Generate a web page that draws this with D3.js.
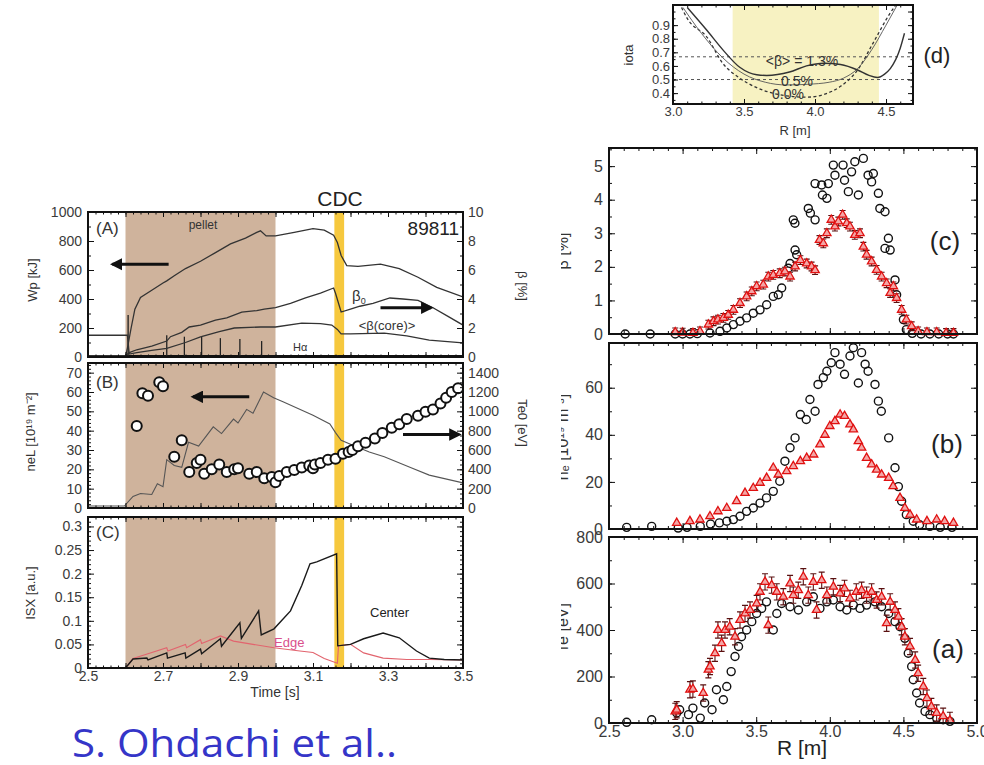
<!DOCTYPE html>
<html>
<head>
<meta charset="utf-8">
<script src="https://cdn.jsdelivr.net/npm/d3@7"></script>
<style>
  body { margin: 0; background: #fff; }
  svg { display: block; }
</style>
</head>
<body>
<svg id="fig" width="984" height="765"></svg>
<script>
// ---------- time traces, shot 89811 ----------
const timeTicks = [2.5, 2.7, 2.9, 3.1, 3.3, 3.5];
const pelletWindow = [2.6, 3.0];
const cdcWindow = [3.157, 3.183];

// stored energy Wp [kJ]
const wpTrace = [[2.5,8],[2.6,8],[2.605,60],[2.615,200],[2.625,330],[2.64,410],[2.67,460],[2.7,510],[2.71,525],[2.73,560],[2.76,610],[2.8,660],[2.84,720],[2.88,780],[2.92,820],[2.95,860],[2.96,870],[2.975,835],[3.0,835],[3.05,860],[3.1,885],[3.13,875],[3.155,840],[3.165,790],[3.175,700],[3.19,630],[3.22,625],[3.28,640],[3.33,610],[3.38,550],[3.43,480],[3.5,414]];
// central beta [%]
const beta0Trace = [[2.5,0.1],[2.6,0.1],[2.61,0.3],[2.63,0.5],[2.67,0.75],[2.71,1.1],[2.72,1.4],[2.75,1.7],[2.77,2.07],[2.8,2.2],[2.84,2.55],[2.87,2.7],[2.91,3.1],[2.95,3.2],[2.97,3.3],[3.0,3.4],[3.04,3.7],[3.08,4.07],[3.12,4.4],[3.155,4.76],[3.16,4.4],[3.175,3.1],[3.2,3.3],[3.225,3.5],[3.26,3.7],[3.305,4.07],[3.34,4.0],[3.38,3.9],[3.42,3.4],[3.46,2.8],[3.5,2.2]];
// volume averaged core beta [%]
const betaCoreTrace = [[2.5,1.5],[2.605,1.5],[2.61,0.2],[2.63,0.3],[2.67,0.45],[2.71,0.6],[2.76,1.0],[2.8,1.38],[2.85,1.75],[2.89,2.0],[2.96,2.07],[3.0,2.07],[3.07,2.34],[3.12,2.3],[3.15,2.2],[3.165,1.9],[3.175,1.6],[3.2,1.6],[3.29,1.65],[3.35,1.45],[3.41,1.17],[3.5,0.97]];
// H-alpha spikes (pellet ablation), height on the Wp scale
const halphaSpikes = [[2.607,290],[2.71,150],[2.757,140],[2.803,140],[2.853,130],[2.905,125],[2.963,110],[3.165,12]];
const halphaBase = 5;

// line density neL [1e19 m^-2]
const nelTrace = [[2.5,1],[2.597,1],[2.62,6],[2.64,7.5],[2.67,7],[2.685,12.5],[2.7,11],[2.71,25],[2.73,22],[2.75,21],[2.768,34],[2.795,32],[2.834,42],[2.856,38.5],[2.888,46],[2.9,44],[2.923,51],[2.94,49],[2.968,60],[2.995,57],[3.02,55],[3.06,51.5],[3.1,48],[3.145,43.5],[3.16,39],[3.175,35],[3.2,33],[3.25,29],[3.29,26.5],[3.36,21],[3.41,17],[3.5,13]];
// central electron temperature Te0 [eV]
const te0Points = [[2.63,848],[2.645,1188],[2.66,1160],[2.69,1300],[2.70,1260],[2.73,530],[2.75,700],[2.77,372],[2.79,466],[2.80,500],[2.81,354],[2.83,400],[2.85,450],[2.87,372],[2.89,400],[2.90,410],[2.93,354],[2.95,372],[2.97,308],[2.99,320],[3.0,266],[3.01,332],[3.03,372],[3.05,392],[3.07,420],[3.09,440],[3.10,410],[3.105,450],[3.12,466],[3.14,500],[3.16,510],[3.18,560],[3.195,580],[3.205,600],[3.22,640],[3.24,676],[3.265,720],[3.285,776],[3.31,830],[3.33,866],[3.35,920],[3.38,954],[3.40,996],[3.42,1020],[3.44,1080],[3.455,1140],[3.47,1200],[3.487,1240]];

// soft X-ray intensity [a.u.]
const isxCenter = [[2.5,0],[2.6,0],[2.62,0.019],[2.657,0.021],[2.66,0.017],[2.71,0.032],[2.712,0.021],[2.759,0.032],[2.761,0.021],[2.8,0.04],[2.803,0.03],[2.853,0.062],[2.856,0.046],[2.905,0.096],[2.909,0.063],[2.955,0.121],[2.962,0.07],[2.996,0.083],[3.04,0.121],[3.07,0.175],[3.092,0.221],[3.11,0.225],[3.163,0.242],[3.166,0.047],[3.2,0.05],[3.235,0.062],[3.287,0.074],[3.33,0.064],[3.376,0.036],[3.41,0.021],[3.45,0.018],[3.5,0.017]];
const isxEdge = [[2.5,0],[2.6,0],[2.62,0.02],[2.66,0.03],[2.71,0.043],[2.713,0.036],[2.76,0.05],[2.763,0.043],[2.8,0.06],[2.803,0.052],[2.853,0.068],[2.888,0.057],[2.94,0.05],[2.996,0.043],[3.065,0.036],[3.1,0.033],[3.13,0.02],[3.165,0.01],[3.168,0.047],[3.2,0.05],[3.235,0.032],[3.287,0.021],[3.35,0.018],[3.41,0.018],[3.5,0.017]];

// ---------- rotational transform profiles (d) ----------
const iotaWindow = [3.42, 4.45];
const iotaRefLines = [0.667, 0.5];
const iotaBeta00 = [[3.06,1.03],[3.1,0.95],[3.24,0.81],[3.35,0.62],[3.47,0.51],[3.59,0.44],[3.7,0.40],[3.8,0.38],[3.94,0.37],[4.06,0.39],[4.18,0.45],[4.3,0.57],[4.41,0.77],[4.53,0.99],[4.57,1.05]];
const iotaBeta05 = [[3.07,1.03],[3.2,0.84],[3.35,0.66],[3.5,0.54],[3.65,0.48],[3.8,0.46],[3.95,0.465],[4.1,0.48],[4.2,0.51],[4.3,0.58],[4.4,0.72],[4.5,0.9],[4.58,1.05]];
const iotaBeta13 = [[3.1,1.03],[3.24,0.86],[3.35,0.72],[3.47,0.59],[3.59,0.535],[3.66,0.53],[3.82,0.555],[3.94,0.60],[4.06,0.62],[4.18,0.61],[4.3,0.57],[4.38,0.53],[4.44,0.515],[4.49,0.54],[4.53,0.58],[4.6,0.73],[4.63,0.84]];

// ---------- radial profiles: circles = before, triangles = after ----------
const rTicks = [2.5, 3.0, 3.5, 4.0, 4.5, 5.0];
const betaCircles = [[2.61,0],[2.78,0],[2.95,0],[3.0,0],[3.05,0],[3.1,0.01],[3.186,0.03],[3.254,0.08],[3.30,0.18],[3.345,0.28],[3.39,0.38],[3.435,0.48],[3.48,0.62],[3.526,0.72],[3.571,0.87],[3.616,1.12],[3.65,1.17],[3.673,1.37],[3.718,1.96],[3.73,2.1],[3.764,2.5],[3.775,2.36],[3.752,3.4],[3.763,3.3],[3.854,3.74],[3.868,3.6],[3.9,3.4],[3.9,4.48],[3.945,4.44],[3.95,4.14],[3.98,4.04],[3.99,4.48],[4.024,5.03],[4.035,4.73],[4.09,5.03],[4.10,4.58],[4.126,4.24],[4.148,4.83],[4.194,4.14],[4.17,5.13],[4.228,5.23],[4.26,4.73],[4.284,4.53],[4.296,4.78],[4.33,4.19],[4.34,3.74],[4.375,3.64],[4.398,2.85],[4.41,2.5],[4.375,2.55],[4.443,1.61],[4.454,1.17],[4.5,0.43],[4.52,0.13],[4.56,0.02],[4.62,0],[4.68,0],[4.74,0],[4.8,0],[4.84,0]];
const betaTriangles = [[2.95,0.05],[3.0,0.04],[3.07,0.03],[3.118,0.08],[3.175,0.28],[3.21,0.38],[3.24,0.43],[3.277,0.48],[3.31,0.57],[3.345,0.72],[3.39,0.92],[3.435,1.12],[3.47,1.27],[3.503,1.42],[3.548,1.47],[3.582,1.71],[3.616,1.76],[3.66,1.81],[3.695,1.86],[3.73,1.71],[3.764,2.01],[3.8,2.2],[3.843,2.1],[3.876,2.01],[3.9,1.9],[3.93,2.8],[3.956,2.7],[3.98,3.0],[4.01,3.4],[4.035,3.2],[4.058,3.35],[4.087,3.55],[4.115,3.3],[4.137,3.2],[4.17,2.95],[4.205,3.0],[4.228,2.6],[4.25,2.36],[4.284,2.16],[4.318,1.91],[4.352,1.71],[4.386,1.51],[4.41,1.22],[4.432,1.42],[4.454,1.07],[4.488,0.72],[4.52,0.43],[4.556,0.23],[4.6,0.08],[4.66,0.05],[4.726,0.05],[4.79,0.03],[4.84,0.03]];
const betaErr = 0.13;

const neCircles = [[2.62,0.7],[2.79,1.1],[2.97,0.4],[3.03,0.7],[3.12,1.1],[3.19,2.1],[3.25,2.6],[3.3,3.3],[3.345,4],[3.39,5.4],[3.435,7.5],[3.48,8.9],[3.526,11],[3.57,13.2],[3.616,16],[3.66,20.3],[3.695,28.8],[3.73,34.5],[3.764,38.7],[3.8,48.6],[3.84,46.5],[3.865,55],[3.9,50],[3.92,61.4],[3.956,64.3],[3.98,67],[4.01,70.6],[4.035,74.9],[4.07,70],[4.10,65.7],[4.137,73.5],[4.16,77],[4.194,62],[4.216,74.9],[4.24,70],[4.26,67],[4.307,61.4],[4.33,54.3],[4.35,50],[4.4,38.7],[4.443,26],[4.466,18],[4.488,11.8],[4.52,6.1],[4.567,3.3],[4.61,1.8],[4.68,1.1],[4.75,0.7],[4.83,0.7]];
const neTriangles = [[2.96,2.6],[3.05,3.3],[3.118,4],[3.186,5.4],[3.24,7.5],[3.3,8.9],[3.367,11.8],[3.424,15.3],[3.48,17.4],[3.526,19.6],[3.571,21.7],[3.616,26],[3.65,23.1],[3.707,24.5],[3.752,26.7],[3.8,28.8],[3.843,30.2],[3.89,31.6],[3.933,35.9],[3.967,40],[4.0,43.7],[4.035,45.8],[4.07,48.6],[4.10,48],[4.137,44.4],[4.16,42.3],[4.194,37.3],[4.216,34.5],[4.25,30.2],[4.284,27.4],[4.318,25.2],[4.352,23.1],[4.4,21.7],[4.43,18.2],[4.477,13.2],[4.51,8.9],[4.545,6.1],[4.59,4],[4.66,3.3],[4.726,4],[4.78,3.3],[4.84,2.6]];

const teCircles = [[2.62,3],[2.79,14],[2.96,43],[2.98,57],[3.04,36],[3.07,64],[3.12,21],[3.15,86],[3.2,57],[3.23,143],[3.277,100],[3.3,157],[3.33,221],[3.356,286],[3.38,329],[3.4,371],[3.435,400],[3.47,436],[3.503,471],[3.537,493],[3.57,521],[3.616,400],[3.64,471],[3.673,514],[3.73,500],[3.787,486],[3.843,521],[3.888,543],[3.933,493],[3.98,521],[4.024,529],[4.07,500],[4.115,486],[4.16,507],[4.205,493],[4.25,507],[4.307,521],[4.352,500],[4.4,471],[4.443,436],[4.477,414],[4.51,364],[4.533,300],[4.556,243],[4.567,186],[4.59,129],[4.61,86],[4.647,50],[4.68,36],[4.726,21],[4.77,14],[4.816,7]];
const teTriangles = [[2.95,50],[2.96,57],[3.05,143],[3.07,146],[3.14,129],[3.175,229],[3.186,243],[3.22,300],[3.24,400],[3.265,343],[3.288,400],[3.32,414],[3.356,371],[3.39,443],[3.424,471],[3.458,486],[3.503,514],[3.526,564],[3.56,607],[3.582,421],[3.605,593],[3.64,564],[3.684,543],[3.73,600],[3.752,550],[3.786,571],[3.82,629],[3.854,550],[3.888,607],[3.91,486],[3.945,614],[3.98,550],[4.024,586],[4.07,557],[4.10,579],[4.137,536],[4.18,564],[4.216,571],[4.25,550],[4.284,564],[4.318,529],[4.352,543],[4.386,429],[4.41,521],[4.443,486],[4.466,457],[4.488,414],[4.51,371],[4.545,329],[4.58,271],[4.6,214],[4.635,157],[4.66,107],[4.69,71],[4.726,43],[4.77,29],[4.816,11]];
const teErr = 35;

// ---------- drawing ----------
const FONT = '"Liberation Sans", Arial, Helvetica, sans-serif';
const svg = d3.select("#fig").attr("font-family", FONT);
const defs = svg.append("defs");
defs.append("marker").attr("id", "head").attr("viewBox", "0 0 10 10")
  .attr("refX", 8).attr("refY", 5).attr("markerWidth", 4.2).attr("markerHeight", 4.2)
  .attr("orient", "auto").attr("markerUnits", "strokeWidth")
  .append("path").attr("d", "M0,0L10,5L0,10z").attr("fill", "#111");

let clipId = 0;
function clipFor(x0, x1, y0, y1) {
  const id = "clip" + (clipId++);
  defs.append("clipPath").attr("id", id).append("rect")
    .attr("x", x0).attr("y", y0).attr("width", x1 - x0).attr("height", y1 - y0);
  return `url(#${id})`;
}

function ticks(orient, scale, at, values, len, fmt, fs, pad) {
  const make = { left: d3.axisLeft, right: d3.axisRight, top: d3.axisTop, bottom: d3.axisBottom }[orient];
  const axis = make(scale).tickValues(values).tickSizeInner(-len).tickSizeOuter(0)
    .tickPadding(pad == null ? 5 : pad).tickFormat(fmt || (() => ""));
  const vertical = orient === "left" || orient === "right";
  const g = svg.append("g")
    .attr("transform", vertical ? `translate(${at},0)` : `translate(0,${at})`)
    .call(axis).attr("font-family", FONT).attr("font-size", fs || 13);
  g.select(".domain").remove();
  g.selectAll("line").attr("stroke", "#111").attr("stroke-width", 1);
  g.selectAll("text").attr("fill", "#3a3a3a");
  return g;
}
function range(a, b, s) { const out = []; for (let v = a; v <= b + s * 1e-6; v += s) out.push(+v.toFixed(6)); return out; }

function frame(x0, x1, y0, y1, w) {
  svg.append("rect").attr("x", x0).attr("y", y0).attr("width", x1 - x0).attr("height", y1 - y0)
    .attr("fill", "none").attr("stroke", "#111").attr("stroke-width", w || 2);
}
function text(x, y, s, opt) {
  const t = svg.append("text").attr("x", x).attr("y", y).text(s)
    .attr("font-size", opt.size || 13).attr("fill", opt.fill || "#333")
    .attr("text-anchor", opt.anchor || "start");
  if (opt.rotate) t.attr("transform", `rotate(${opt.rotate},${x},${y})`).attr("dy", "0.35em");
  return t;
}

// ===== left column: time traces =====
const L = { x0: 88, x1: 463 };
const xT = d3.scaleLinear([2.5, 3.5], [L.x0, L.x1]);
const PA = { y0: 212, y1: 357 }, PB = { y0: 363, y1: 508 }, PC = { y0: 517, y1: 668 };
const yWp = d3.scaleLinear([0, 1000], [PA.y1, PA.y0]);
const yBeta = d3.scaleLinear([0, 10], [PA.y1, PA.y0]);
const yNel = d3.scaleLinear([0, 75], [PB.y1, PB.y0]);
const yTe0 = d3.scaleLinear([0, 1500], [PB.y1, PB.y0]);
const yIsx = d3.scaleLinear([0, 0.32], [PC.y1, PC.y0]);

[PA, PB, PC].forEach(p => {
  svg.append("rect").attr("x", xT(pelletWindow[0])).attr("y", p.y0)
    .attr("width", xT(pelletWindow[1]) - xT(pelletWindow[0])).attr("height", p.y1 - p.y0)
    .attr("fill", "#cfb39c");
  svg.append("rect").attr("x", xT(cdcWindow[0])).attr("y", p.y0)
    .attr("width", xT(cdcWindow[1]) - xT(cdcWindow[0])).attr("height", p.y1 - p.y0)
    .attr("fill", "#f6c83e");
});

const lineT = (ys) => d3.line().x(d => xT(d[0])).y(d => ys(d[1]));

// (A)
const clipA = clipFor(L.x0, L.x1, PA.y0, PA.y1);
const gA = svg.append("g").attr("clip-path", clipA);
gA.append("path").attr("d", d3.line().x(d => xT(d[0])).y(() => yWp(halphaBase))(d3.extent(timeTicks).map(t => [t])))
  .attr("stroke", "#111").attr("stroke-width", 2.5);
gA.selectAll(".ha").data(halphaSpikes).join("line")
  .attr("x1", d => xT(d[0])).attr("x2", d => xT(d[0]))
  .attr("y1", yWp(halphaBase)).attr("y2", d => yWp(d[1]))
  .attr("stroke", "#222").attr("stroke-width", 1.3);
[[wpTrace, yWp], [beta0Trace, yBeta], [betaCoreTrace, yBeta]].forEach(([d, ys]) =>
  gA.append("path").attr("d", lineT(ys)(d)).attr("fill", "none").attr("stroke", "#333").attr("stroke-width", 1.3));

// (B)
const clipB = clipFor(L.x0, L.x1, PB.y0, PB.y1);
const gB = svg.append("g").attr("clip-path", clipB);
gB.append("path").attr("d", lineT(yNel)(nelTrace)).attr("fill", "none").attr("stroke", "#555").attr("stroke-width", 1.1);
gB.selectAll("circle").data(te0Points).join("circle")
  .attr("cx", d => xT(d[0])).attr("cy", d => yTe0(d[1])).attr("r", 5)
  .attr("fill", "#fff").attr("stroke", "#111").attr("stroke-width", 2);

// (C)
const clipC = clipFor(L.x0, L.x1, PC.y0, PC.y1);
const gC = svg.append("g").attr("clip-path", clipC);
gC.append("path").attr("d", lineT(yIsx)(isxEdge)).attr("fill", "none").attr("stroke", "#e2646e").attr("stroke-width", 1.1);
gC.append("path").attr("d", lineT(yIsx)(isxCenter)).attr("fill", "none").attr("stroke", "#1a1a1a").attr("stroke-width", 1.4);

// frames and ticks, left column
[PA, PB, PC].forEach(p => {
  ticks("top", xT, p.y0, range(2.5, 3.5, 0.1), 5);
  ticks("top", xT, p.y0, range(2.5, 3.5, 0.02), 2.5);
  ticks("bottom", xT, p.y1, range(2.5, 3.5, 0.1), 5);
  ticks("bottom", xT, p.y1, range(2.5, 3.5, 0.02), 2.5);
});
ticks("bottom", xT, PC.y1, timeTicks, 0, d3.format(".1f"), 14, 3);

ticks("left", yWp, L.x0, range(0, 1000, 200), 6, d3.format("d"), 14, 6);
ticks("left", yWp, L.x0, range(0, 1000, 100), 3);
ticks("right", yBeta, L.x1, range(0, 10, 2), 6, d3.format("d"), 14, 5);
ticks("right", yBeta, L.x1, range(0, 10, 1), 3);

ticks("left", yNel, L.x0, range(0, 70, 10), 6, d3.format("d"), 14, 6);
ticks("left", yNel, L.x0, range(0, 74, 2), 3);
ticks("right", yTe0, L.x1, range(0, 1400, 200), 6, d3.format("d"), 14, 5);
ticks("right", yTe0, L.x1, range(0, 1480, 50), 3);

ticks("left", yIsx, L.x0, range(0, 0.3, 0.05), 6, v => v === 0 ? "0" : d3.format("~g")(v), 14, 6);
ticks("left", yIsx, L.x0, range(0, 0.32, 0.01), 3);
ticks("right", yIsx, L.x1, range(0, 0.3, 0.05), 6);
ticks("right", yIsx, L.x1, range(0, 0.32, 0.01), 3);

[PA, PB, PC].forEach(p => frame(L.x0, L.x1, p.y0, p.y1, 2));

// arrows
function arrow(x1, y1, x2, y2) {
  svg.append("line").attr("x1", x1).attr("y1", y1).attr("x2", x2).attr("y2", y2)
    .attr("stroke", "#111").attr("stroke-width", 3).attr("marker-end", "url(#head)");
}
arrow(xT(2.715), yWp(640), xT(2.565), yWp(640));
arrow(xT(3.28), yBeta(3.4), xT(3.415), yBeta(3.4));
arrow(xT(2.93), yNel(57.5), xT(2.78), yNel(57.5));
arrow(xT(3.34), yTe0(760), xT(3.49), yTe0(760));

// labels, left column
text(340, 206, "CDC", { size: 21, anchor: "middle", fill: "#222" });
text(96, 234, "(A)", { size: 17 });
text(203, 229, "pellet", { size: 12, anchor: "middle" });
text(459, 235, "89811", { size: 19, anchor: "end", fill: "#222" });
const b0 = text(352, 301, "β", { size: 15 });
b0.append("tspan").attr("font-size", 9).attr("dy", 3).text("0");
text(387, 330, "<β(core)>", { size: 13, anchor: "middle" });
text(293, 351, "Hα", { size: 11 });
text(96, 388, "(B)", { size: 17 });
text(96, 538, "(C)", { size: 17 });
text(274, 647, "Edge", { size: 13, fill: "#d9508c" });
text(370, 617, "Center", { size: 13, fill: "#222" });
text(275, 697, "Time [s]", { size: 14, anchor: "middle" });
text(32, 280, "Wp [kJ]", { size: 13, anchor: "middle", rotate: -90 });
text(30, 432, "neL [10¹⁹ m⁻²]", { size: 13, anchor: "middle", rotate: -90 });
text(30, 593, "ISX [a.u.]", { size: 13, anchor: "middle", rotate: -90 });
text(523, 286, "β [%]", { size: 13, anchor: "middle", rotate: 90 });
text(523, 423, "Te0 [eV]", { size: 13, anchor: "middle", rotate: 90 });

// ===== panel (d): iota profiles =====
const D = { x0: 673, x1: 913, y0: 5, y1: 104 };
const xD = d3.scaleLinear([3.0, 4.69], [D.x0, D.x1]);
const yD = d3.scaleLinear([0.32, 1.048], [D.y1, D.y0]);
svg.append("rect").attr("x", xD(iotaWindow[0])).attr("y", D.y0)
  .attr("width", xD(iotaWindow[1]) - xD(iotaWindow[0])).attr("height", D.y1 - D.y0).attr("fill", "#f7f2c2");
const gD = svg.append("g").attr("clip-path", clipFor(D.x0, D.x1, D.y0, D.y1));
gD.selectAll(".ref").data(iotaRefLines).join("line")
  .attr("x1", D.x0).attr("x2", D.x1).attr("y1", d => yD(d)).attr("y2", d => yD(d))
  .attr("stroke", "#555").attr("stroke-width", 1).attr("stroke-dasharray", "3,3");
const lineD = d3.line().curve(d3.curveMonotoneX).x(d => xD(d[0])).y(d => yD(d[1]));
gD.append("path").attr("d", lineD(iotaBeta00)).attr("fill", "none").attr("stroke", "#333").attr("stroke-width", 1.3).attr("stroke-dasharray", "3,2.5");
gD.append("path").attr("d", lineD(iotaBeta05)).attr("fill", "none").attr("stroke", "#555").attr("stroke-width", 0.9);
gD.append("path").attr("d", lineD(iotaBeta13)).attr("fill", "none").attr("stroke", "#333").attr("stroke-width", 1.4);
text(802, 66, "<β> = 1.3%", { size: 14, anchor: "middle", fill: "#333" });
text(797, 86, "0.5%", { size: 14, anchor: "middle", fill: "#333" });
text(788, 99, "0.0%", { size: 14, anchor: "middle", fill: "#333" });
ticks("left", yD, D.x0, range(0.4, 0.9, 0.1), 5, d3.format(".1f"), 13, 3);
ticks("left", yD, D.x0, range(0.35, 1.0, 0.05), 2.5);
ticks("right", yD, D.x1, range(0.4, 1.0, 0.1), 5);
ticks("right", yD, D.x1, range(0.35, 1.0, 0.05), 2.5);
ticks("bottom", xD, D.y1, [3.0, 3.5, 4.0, 4.5], 5, d3.format(".1f"), 13, 3);
ticks("bottom", xD, D.y1, range(3.0, 4.6, 0.1), 2.5);
ticks("top", xD, D.y0, [3.0, 3.5, 4.0, 4.5], 5);
ticks("top", xD, D.y0, range(3.0, 4.6, 0.1), 2.5);
frame(D.x0, D.x1, D.y0, D.y1, 2);
text(795, 135, "R [m]", { size: 13, anchor: "middle" });
text(628, 55, "iota", { size: 13, anchor: "middle", rotate: -90 });
text(937, 63, "(d)", { size: 22, anchor: "middle", fill: "#222" });

// ===== right column: radial profiles =====
const R = { x0: 609, x1: 977 };
const xR = d3.scaleLinear([2.5, 5.0], [R.x0, R.x1]);
const PCr = { y0: 148, y1: 334 }, PBr = { y0: 343, y1: 529 }, PAr = { y0: 537, y1: 723 };
const yBetaR = d3.scaleLinear([0, 5.54], [PCr.y1, PCr.y0]);
const yNeR = d3.scaleLinear([0, 79], [PBr.y1, PBr.y0]);
const yTeR = d3.scaleLinear([0, 800], [PAr.y1, PAr.y0]);
const tri = d3.symbol(d3.symbolTriangle, 30);

function profile(p, ys, circles, triangles, err) {
  const g = svg.append("g").attr("clip-path", clipFor(R.x0, R.x1, p.y0 - 6, p.y1 + 6));
  g.selectAll("circle").data(circles).join("circle")
    .attr("cx", d => xR(d[0])).attr("cy", d => ys(d[1])).attr("r", 4)
    .attr("fill", "none").attr("stroke", "#111").attr("stroke-width", 1.4);
  if (err) {
    const e = g.append("g").attr("stroke", "#5a1010").attr("stroke-width", 1.1);
    e.selectAll(".eb").data(triangles).join("path")
      .attr("d", d => {
        const x = xR(d[0]), a = ys(d[1] + err), b = ys(Math.max(0, d[1] - err));
        return `M${x},${a}V${b}M${x - 3},${a}H${x + 3}M${x - 3},${b}H${x + 3}`;
      });
  }
  g.selectAll(".tr").data(triangles).join("path")
    .attr("transform", d => `translate(${xR(d[0])},${ys(d[1])})`)
    .attr("d", tri).attr("fill", "#f4a6a6").attr("stroke", "#e01010").attr("stroke-width", 1.3);
}
profile(PCr, yBetaR, betaCircles, betaTriangles, betaErr);
profile(PBr, yNeR, neCircles, neTriangles, 0);
profile(PAr, yTeR, teCircles, teTriangles, teErr);

[PCr, PBr, PAr].forEach(p => {
  ticks("top", xR, p.y0, rTicks, 6);
  ticks("top", xR, p.y0, range(2.5, 5.0, 0.1), 3);
  ticks("bottom", xR, p.y1, rTicks, 6);
  ticks("bottom", xR, p.y1, range(2.5, 5.0, 0.1), 3);
});
ticks("bottom", xR, PAr.y1, rTicks, 0, d3.format(".1f"), 16, 3);

ticks("left", yBetaR, R.x0, range(0, 5, 1), 6, d3.format("d"), 16, 6);
ticks("left", yBetaR, R.x0, range(0, 5.5, 0.5), 3);
ticks("right", yBetaR, R.x1, range(0, 5, 1), 6);
ticks("right", yBetaR, R.x1, range(0, 5.5, 0.5), 3);

ticks("left", yNeR, R.x0, [0, 20, 40, 60], 6, d3.format("d"), 16, 6);
ticks("left", yNeR, R.x0, range(0, 70, 10), 3);
ticks("right", yNeR, R.x1, [20, 40, 60], 6);
ticks("right", yNeR, R.x1, range(0, 70, 10), 3);

ticks("left", yTeR, R.x0, range(0, 800, 200), 6, d3.format("d"), 16, 6);
ticks("left", yTeR, R.x0, range(0, 800, 100), 3);
ticks("right", yTeR, R.x1, range(0, 800, 200), 6);
ticks("right", yTeR, R.x1, range(0, 800, 100), 3);

[PCr, PBr, PAr].forEach(p => frame(R.x0, R.x1, p.y0, p.y1, 2));

text(945, 250, "(c)", { size: 26, anchor: "middle", fill: "#222" });
text(947, 453, "(b)", { size: 26, anchor: "middle", fill: "#222" });
text(948, 658, "(a)", { size: 26, anchor: "middle", fill: "#222" });
text(802, 755, "R [m]", { size: 21, anchor: "middle", fill: "#222" });

// y titles of the profile panels, partly hidden behind the left margin
const gY = svg.append("g").attr("clip-path", clipFor(561, 600, 0, 765));
[["β [%]", 251], ["nₑ [10¹⁹ m⁻³]", 437], ["Te [eV]", 628]].forEach(([s, y]) => {
  gY.append("text").attr("x", 562).attr("y", y).attr("dy", "0.35em").text(s)
    .attr("font-size", 16).attr("fill", "#333").attr("text-anchor", "middle")
    .attr("transform", `rotate(-90,562,${y})`);
});

// citation
svg.append("text").attr("x", 72).attr("y", 757).text("S. Ohdachi et al..")
  .attr("font-family", '"Open Sans", "Noto Sans", sans-serif').attr("font-size", 39)
  .attr("textLength", 325).attr("lengthAdjust", "spacingAndGlyphs").attr("fill", "#3535c8");
</script>
</body>
</html>
